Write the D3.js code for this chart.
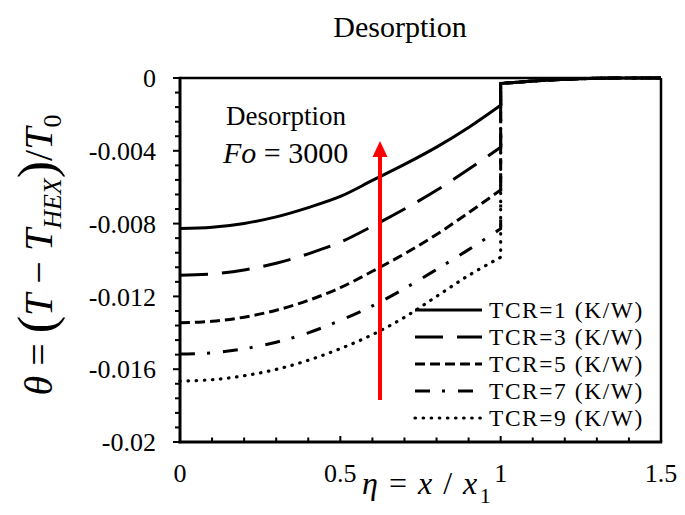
<!DOCTYPE html>
<html>
<head>
<meta charset="utf-8">
<script src="https://cdn.jsdelivr.net/npm/d3@7"></script>
<style>
  html, body { margin: 0; padding: 0; background: #fff; }
  svg { display: block; }
  text { font-family: "Liberation Serif", "Times New Roman", serif; fill: #000; }
</style>
</head>
<body>
<svg id="chart" width="685" height="515"></svg>
<script>
// Dimensionless position in the adsorbent bed (0..1)
const eta = [0, 0.1, 0.2, 0.3, 0.4, 0.5, 0.6, 0.7, 0.8, 0.9, 1.0];

// Temperature profiles in the bed for each thermal contact resistance
const tcr1 = [-0.00827, -0.00820, -0.00799, -0.00763, -0.00712, -0.00651, -0.00563, -0.00475, -0.00380, -0.00272, -0.00150];
const tcr3 = [-0.01084, -0.01077, -0.01055, -0.01018, -0.00966, -0.00902, -0.00814, -0.00720, -0.00617, -0.00502, -0.00380];
const tcr5 = [-0.01345, -0.01337, -0.01314, -0.01276, -0.01222, -0.01152, -0.01062, -0.00966, -0.00860, -0.00740, -0.00615];
const tcr7 = [-0.01517, -0.01510, -0.01488, -0.01452, -0.01400, -0.01332, -0.01252, -0.01157, -0.01052, -0.00943, -0.00828];
const tcr9 = [-0.01665, -0.01658, -0.01636, -0.01601, -0.01551, -0.01487, -0.01410, -0.01315, -0.01200, -0.01085, -0.00985];

// Heat exchanger wall region (shared by all cases)
const etaHex = [1.0, 1.1, 1.2, 1.3, 1.4, 1.5];
const thetaHex = [-0.00030, -0.00017, -0.00007, -0.00001, 0, 0];

const seriesLabels = ["TCR=1 (K/W)", "TCR=3 (K/W)", "TCR=5 (K/W)", "TCR=7 (K/W)", "TCR=9 (K/W)"];
const seriesValues = [tcr1, tcr3, tcr5, tcr7, tcr9];
const seriesDash = [null, "28,14", "10,5", "15,12,3,13", "0.5,7.6"];

const xTickValues = [0, 0.5, 1, 1.5];
const xTickLabels = ["0", "0.5", "1", "1.5"];
const yTickValues = [0, -0.004, -0.008, -0.012, -0.016, -0.02];
const yTickLabels = ["0", "-0.004", "-0.008", "-0.012", "-0.016", "-0.02"];

const svg = d3.select("#chart");
const plotLeft = 180, plotRight = 661, plotTop = 78, plotBottom = 442;

const x = d3.scaleLinear().domain([0, 1.5]).range([plotLeft, plotRight]);
const y = d3.scaleLinear().domain([-0.02, 0]).range([plotBottom, plotTop]);

// Title
svg.append("text").attr("x", 400).attr("y", 37).attr("text-anchor", "middle")
  .style("font-size", "30px").text("Desorption");

// Frame (top and right)
svg.append("line").attr("x1", plotLeft).attr("x2", plotRight).attr("y1", plotTop).attr("y2", plotTop)
  .attr("stroke", "#000").attr("stroke-width", 2.5);
svg.append("line").attr("x1", plotRight).attr("x2", plotRight).attr("y1", plotTop).attr("y2", plotBottom)
  .attr("stroke", "#000").attr("stroke-width", 2.5);

// Y axis: ticks outward, minor every 0.0008
const yAxis = svg.append("g").attr("transform", `translate(${plotLeft},0)`);
const yMinor = d3.range(0, 26).map(i => -i * 0.0008);
yAxis.selectAll("line.minor").data(yMinor).join("line")
  .attr("x1", d => yTickValues.some(v => Math.abs(v - d) < 1e-9) ? -7 : -5)
  .attr("x2", 0).attr("y1", d => y(d)).attr("y2", d => y(d))
  .attr("stroke", "#000").attr("stroke-width", 2);
yAxis.append("line").attr("x1", 0).attr("x2", 0).attr("y1", plotTop - 1.2).attr("y2", plotBottom + 1.2)
  .attr("stroke", "#000").attr("stroke-width", 3);
yAxis.selectAll("text").data(yTickValues).join("text")
  .attr("x", -24).attr("y", d => y(d)).attr("dy", "0.35em")
  .attr("text-anchor", "end").style("font-size", "26px")
  .text((d, i) => yTickLabels[i]);

// X axis: ticks inward, minor every 0.1
const xAxis = svg.append("g").attr("transform", `translate(0,${plotBottom})`);
const xMinor = d3.range(0, 16).map(i => i * 0.1);
xAxis.selectAll("line.tick").data(xMinor).join("line")
  .attr("x1", d => x(d)).attr("x2", d => x(d))
  .attr("y1", 0).attr("y2", d => (Math.round(d * 10) % 5 === 0) ? -6 : -4.5)
  .attr("stroke", "#000").attr("stroke-width", 2);
xAxis.append("line").attr("x1", plotLeft - 1.5).attr("x2", plotRight + 1.2).attr("y1", 0).attr("y2", 0)
  .attr("stroke", "#000").attr("stroke-width", 3);
xAxis.selectAll("text").data(xTickValues).join("text")
  .attr("x", d => x(d)).attr("y", 40)
  .attr("text-anchor", "middle").style("font-size", "26px")
  .text((d, i) => xTickLabels[i]);

// Curves: bed profile (smooth), jump at the wall, then the HEX region
const bedLine = d3.line().x(d => x(d[0])).y(d => y(d[1])).curve(d3.curveCatmullRom);
const hexLine = d3.line().x(d => x(d[0])).y(d => y(d[1]));
const hexPts = etaHex.map((e, i) => [e, thetaHex[i]]);

const curves = svg.append("g");
seriesValues.forEach((vals, k) => {
  const bedPts = eta.map((e, i) => [e, vals[i]]);
  const d = bedLine(bedPts) + hexLine(hexPts).replace(/^M/, "L");
  curves.append("path").attr("d", d)
    .attr("fill", "none").attr("stroke", "#000")
    .attr("stroke-width", k === 4 ? 3.2 : 3)
    .attr("stroke-linecap", k === 4 ? "round" : "butt")
    .attr("stroke-dasharray", seriesDash[k]);
});

// Legend
const legend = svg.append("g");
seriesLabels.forEach((lab, k) => {
  const ly = 310 + k * 27;
  legend.append("line").attr("x1", 415).attr("x2", 482).attr("y1", ly).attr("y2", ly)
    .attr("stroke", "#000").attr("stroke-width", k === 4 ? 3.2 : 3)
    .attr("stroke-linecap", k === 4 ? "round" : "butt")
    .attr("stroke-dasharray", seriesDash[k]);
  legend.append("text").attr("x", 489).attr("y", ly).attr("dy", "0.35em")
    .style("font-size", "23.4px").style("letter-spacing", "1.6px").text(lab);
});

// Annotation
svg.append("text").attr("x", 286).attr("y", 125).attr("text-anchor", "middle")
  .style("font-size", "27px").text("Desorption");
const fo = svg.append("text").attr("x", 223).attr("y", 163).style("font-size", "30px");
fo.append("tspan").style("font-style", "italic").text("Fo");
fo.append("tspan").text(" = 3000");

// Red arrow showing increasing TCR direction
svg.append("line").attr("x1", 380).attr("x2", 380).attr("y1", 400).attr("y2", 155)
  .attr("stroke", "#ff0000").attr("stroke-width", 4);
svg.append("path").attr("d", "M380,141 L372.5,157 L387.5,157 Z").attr("fill", "#ff0000");

// Y axis title
const yt = svg.append("text").attr("transform", "translate(52,255) rotate(-90)")
  .attr("text-anchor", "middle").style("font-size", "40px");
yt.append("tspan").style("font-style", "italic").text("θ");
yt.append("tspan").text(" = ");
yt.append("tspan").style("font-size", "52px").attr("dy", 2).text("(");
yt.append("tspan").style("font-style", "italic").attr("dy", -2).text("T");
yt.append("tspan").text(" − ");
yt.append("tspan").style("font-style", "italic").text("T");
yt.append("tspan").style("font-style", "italic").style("font-size", "26px").attr("dy", 9).text("HEX");
yt.append("tspan").style("font-size", "52px").attr("dy", -7).text(")");
yt.append("tspan").attr("dy", -2).text("/");
yt.append("tspan").style("font-style", "italic").text("T");
yt.append("tspan").style("font-size", "26px").attr("dy", 9).text("0");

// X axis title
const xt = svg.append("text").attr("x", 362).attr("y", 494).style("font-size", "32px")
  .style("letter-spacing", "1.5px");
xt.append("tspan").style("font-style", "italic").text("η");
xt.append("tspan").text(" = ");
xt.append("tspan").style("font-style", "italic").text("x");
xt.append("tspan").text(" / ");
xt.append("tspan").style("font-style", "italic").text("x");
xt.append("tspan").style("font-size", "22px").attr("dx", 1).attr("dy", 9).text("1");
</script>
</body>
</html>
